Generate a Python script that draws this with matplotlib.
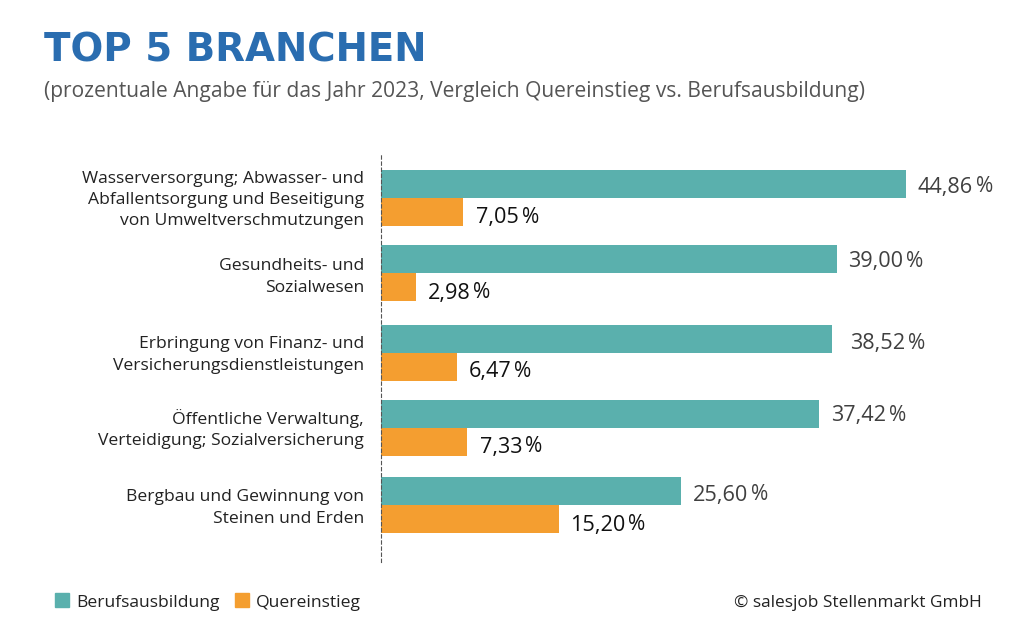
# encoding=utf-8
import matplotlib
matplotlib.use('Agg')
import matplotlib.pyplot as plt
from matplotlib.patches import Patch

categories = ['Wasserversorgung; Abwasser- und\nAbfallentsorgung und Beseitigung\nvon Umweltverschmutzungen',
              'Gesundheits- und\nSozialwesen',
              'Erbringung von Finanz- und\nVersicherungsdienstleistungen',
              'Öffentliche Verwaltung,\nVerteidigung; Sozialversicherung',
              'Bergbau und Gewinnung von\nSteinen und Erden']
berufsausbildung = [44.86, 39.00, 38.52, 37.42, 25.60]
quereinstieg = [7.05, 2.98, 6.47, 7.33, 15.20]

TEAL = '#5AB0AD'
ORANGE = '#F49E30'
W, H = 1024, 640

plt.rcParams['font.family'] = ['Open Sans', 'DejaVu Sans']


def px(size):
    # pixel height to points at dpi 100
    return size * 0.72


def value_label(ax, value, y, dx, dy, color):
    num = ax.annotate(('%.2f' % value).replace('.', ','), xy=(value, y), xytext=(dx * 0.72, -dy * 0.72),
                      textcoords='offset points', fontsize=px(21.7), color=color, va='center', ha='left')
    ax.annotate('%', xy=(1, 0), xycoords=num, xytext=(2.0, 0.5), textcoords='offset points',
                fontsize=px(21), color=color, va='bottom', ha='left')


fig = plt.figure(figsize=(W / 100, H / 100), dpi=100)
ax = fig.add_axes([381 / W, 1 - 562 / H, (1005 - 381) / W, (562 - 153) / H])
ax.set_xlim(0, 624 / 11.7)
ax.set_ylim(562, 153)

# group centres are unevenly spaced in the original
centers = [198, 273, 353, 428, 505]
bar_h = 28
ax.barh([c - bar_h / 2 for c in centers], berufsausbildung, height=bar_h, color=TEAL)
ax.barh([c + bar_h / 2 for c in centers], quereinstieg, height=bar_h, color=ORANGE)

teal_dx = [12, 11, 18, 12, 12]
teal_dy = [3, 3, 5, 2, 4]
orange_dx = [13, 12, 12, 13, 11]
orange_dy = [6, 6, 5, 5, 6]
for i, c in enumerate(centers):
    value_label(ax, berufsausbildung[i], c - bar_h / 2, teal_dx[i], teal_dy[i], '#404040')
    value_label(ax, quereinstieg[i], c + bar_h / 2, orange_dx[i], orange_dy[i], '#111111')

label_y = [200, 277, 355, 429, 508]
for text, y in zip(categories, label_y):
    ax.annotate(text, xy=(0, y), xytext=(-17 * 0.72, 0), textcoords='offset points', ha='right', va='center',
                fontsize=px(17.5), color='#222222', linespacing=1.44, ma='right')

for s in ['top', 'right', 'bottom']:
    ax.spines[s].set_visible(False)
ax.spines['left'].set_linestyle((0, (3, 2.5)))
ax.spines['left'].set_linewidth(0.8)
ax.spines['left'].set_color('#555555')
ax.set_xticks([])
ax.set_yticks([])

fig.text(44 / W, 1 - 51 / H, 'TOP 5 BRANCHEN', fontsize=px(38.7), fontweight='bold', color='#2A6DB0',
         family='DejaVu Sans', va='center', ha='left')
fig.text(44 / W, 1 - 92 / H, '(prozentuale Angabe für das Jahr 2023, Vergleich Quereinstieg vs. Berufsausbildung)',
         fontsize=px(21), color='#555555', va='center', ha='left')
fig.text(982 / W, 1 - 603 / H, '© salesjob Stellenmarkt GmbH', fontsize=px(17.3), color='#222222',
         va='center', ha='right')

handles = [Patch(color=TEAL, label='Berufsausbildung'), Patch(color=ORANGE, label='Quereinstieg')]
fig.legend(handles=handles, loc='center left', bbox_to_anchor=(55 / W, 1 - 602 / H), frameon=False,
           ncol=2, fontsize=px(17.5), labelcolor='#222222', handlelength=0.82, handleheight=0.85,
           handletextpad=0.4, columnspacing=0.86, borderpad=0, borderaxespad=0)

fig.savefig('out.png', dpi=100, facecolor='white')
